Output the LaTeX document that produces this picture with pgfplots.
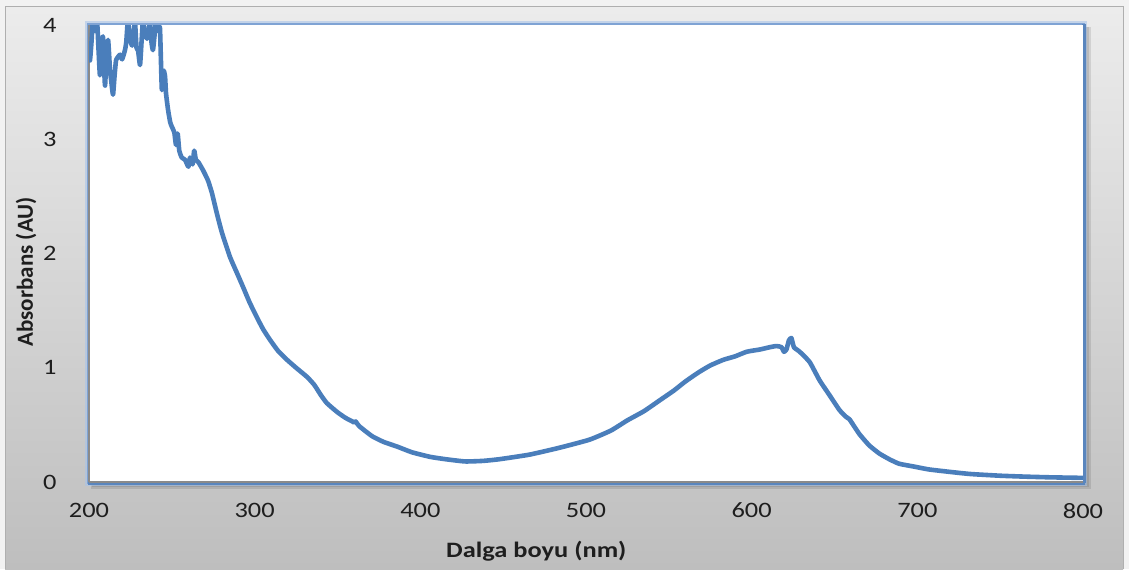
\documentclass[border=0pt]{standalone}
\usepackage{fontspec}
\setmainfont{Carlito}
\usepackage{pgfplots}
\pgfplotsset{compat=1.18}
\definecolor{curve}{HTML}{4A7EBB}
\definecolor{glowlight}{HTML}{A9C4E8}
\definecolor{glowmid}{HTML}{7FA3D4}
\definecolor{edgeblue}{HTML}{5A86BE}
\definecolor{axgray}{HTML}{8A8A8A}
\definecolor{txt}{HTML}{1E1E1E}
\definecolor{pagebg}{HTML}{F2F2F2}
\definecolor{bgtop}{HTML}{ECECEC}
\definecolor{bgbot}{HTML}{BEBEBE}
\definecolor{bgedge}{HTML}{AFAFAF}
\begin{document}
\begin{tikzpicture}
\useasboundingbox (0,0) rectangle (564.5pt,284.5pt);
\begin{scope}[x=0.5pt,y=0.5pt]
  \fill[pagebg] (0,0) rectangle (1129,569);
  \shade[top color=bgtop, bottom color=bgbot] (5,0) rectangle (1123,562);
  \draw[bgedge, line width=0.5pt] (5,0) -- (5,562) -- (1123,562) -- (1123,0);
  % shadow
  \fill[black, opacity=0.10] (91,80) rectangle (1091,542);
  \fill[black, opacity=0.10] (92,82) rectangle (1089,542);
  \fill[black, opacity=0.10] (93,84) rectangle (1087,542);
  % glow
  \draw[glowlight, opacity=0.6, line width=4pt] (89,87) rectangle (1083,544);
  \draw[glowmid, line width=1.8pt] (89,87) rectangle (1083,544);
  \draw[edgeblue, line width=1.6pt] (1084,86) -- (1084,545);
  \draw[edgeblue, line width=1.6pt] (88,86) -- (1085,86);
  \fill[white] (89,87) rectangle (1083,544);
\end{scope}
\begin{axis}[
  at={(44.5pt,43.5pt)}, anchor=south west,
  scale only axis, width=497pt, height=228.5pt,
  xmin=200, xmax=800, ymin=0, ymax=4,
  xtick={200,300,...,800}, ytick={0,1,2,3,4},
  major tick length=0pt,
  axis x line*=bottom, axis y line*=left,
  axis line style={axgray, line width=0.8pt},
  /pgf/number format/assume math mode=true,
  tick label style={font=\fontsize{11}{13}\selectfont, text=txt, xscale=1.2},
  xticklabel style={yshift=-7pt},
  yticklabel style={xshift=-10pt},
  clip mode=individual,
]
\addplot[curve, line width=2.3pt, line join=round, smooth, tension=0.3] coordinates {
(200,3.70) (200.6,3.69) (201.5,3.85) (202.4,4.05) (203.5,3.95) (204.8,4.05)
(205.7,3.80) (206.6,3.56) (207.5,3.75) (208.4,3.90) (209.2,3.60) (209.7,3.47)
(210.5,3.70) (211.5,3.87) (212.1,3.75) (212.7,3.60) (213.5,3.50) (214.5,3.39)
(215.4,3.55) (216.3,3.69) (217.5,3.72) (218.7,3.74) (220,3.70) (221.7,3.78)
(222.5,3.85) (223.5,4.05) (224.5,3.90) (226,3.82) (227,3.95) (227.8,4.02)
(228.7,3.80) (229.6,3.78) (230.8,3.65) (231.7,3.85) (232.6,4.05) (233.5,3.95)
(235,3.88) (236,3.95) (236.8,4.02) (237.7,3.85) (238.6,3.78) (239.5,3.90)
(240.4,4.03) (241.5,3.95) (242.8,3.98) (243.4,3.70) (244,3.43) (245,3.60)
(245.9,3.55) (246.5,3.40) (247.7,3.26) (249,3.15) (250,3.11) (251.5,3.06)
(252.5,2.95) (253.5,3.05) (254.5,2.90) (256,2.84) (258,2.82) (260,2.76)
(261,2.84) (262.5,2.78) (263.5,2.90) (264.5,2.82) (266,2.80) (268.8,2.73)
(271.8,2.64) (274.2,2.53) (277.2,2.35) (280.3,2.18) (285.1,1.97) (289,1.84)
(292.9,1.71) (297,1.57) (301.4,1.44) (305,1.34) (309,1.25) (314,1.15)
(319.5,1.07) (325,1.00) (331.6,0.92) (336,0.85) (340,0.76) (343.6,0.69)
(350,0.61) (355,0.56) (359,0.53) (360,0.52) (361,0.53) (363,0.49)
(371,0.40) (378,0.35) (386,0.31) (395,0.26) (406,0.22) (415,0.20)
(427,0.18) (438,0.185) (448,0.20) (466,0.24) (484,0.30) (502,0.37)
(515,0.45) (525,0.54) (535,0.62) (545,0.72) (553,0.80) (560,0.88)
(568,0.96) (575,1.02) (583,1.07) (590,1.10) (597,1.14) (605,1.16)
(611,1.18) (615,1.19) (618,1.18) (619.5,1.14) (621,1.16) (622.5,1.24)
(624,1.26) (625.5,1.18) (629,1.14) (635,1.05) (641,0.89) (647,0.76)
(653,0.63) (657,0.57) (659,0.55) (665,0.42) (671,0.32) (677,0.25)
(683,0.20) (689,0.16) (698,0.135) (707,0.11) (720,0.088) (732,0.07)
(750,0.055) (765,0.047) (780,0.041) (800,0.036)
};
\node[font=\bfseries\fontsize{11}{13}\selectfont, text=txt, anchor=north, xscale=1.2] at ([yshift=-26pt]rel axis cs:0.45,0) {Dalga boyu (nm)};
\node[font=\bfseries\fontsize{11.5}{13}\selectfont, text=txt, rotate=90, anchor=center] at ([xshift=-31.5pt]rel axis cs:0,0.46) {Absorbans (AU)};
\end{axis}
\end{tikzpicture}
\end{document}
